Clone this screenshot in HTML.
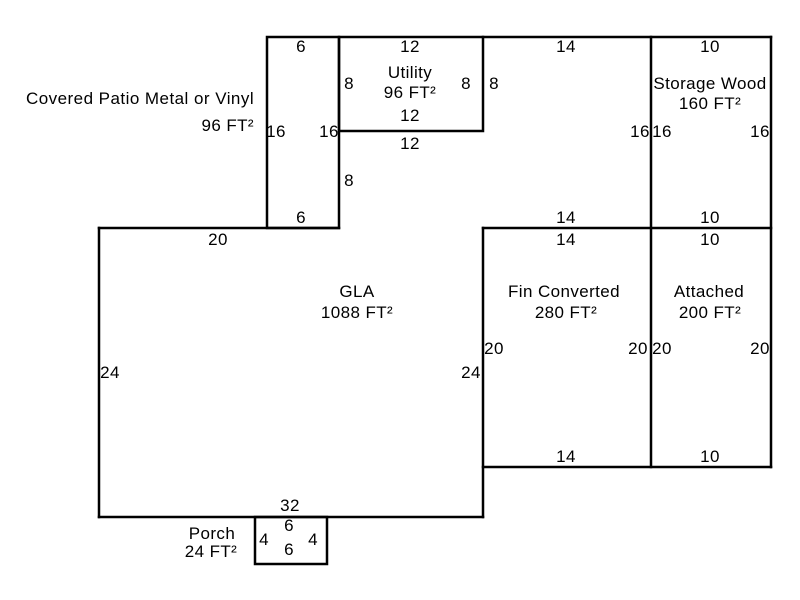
<!DOCTYPE html>
<html><head><meta charset="utf-8"><style>
html,body{margin:0;padding:0;background:#fff;width:800px;height:600px;overflow:hidden}
svg text{font-family:"Liberation Sans",Arial,sans-serif;font-size:17px;letter-spacing:0.4px;fill:#000}
</style></head><body>
<svg width="800" height="600" xmlns="http://www.w3.org/2000/svg">
<g stroke="#000" stroke-width="2.5" fill="none" stroke-linecap="square">
<rect x="267" y="37" width="72" height="191"/>
<rect x="339" y="37" width="144" height="94"/>
<line x1="483" y1="37" x2="771" y2="37"/>
<line x1="651" y1="37" x2="651" y2="467"/>
<line x1="771" y1="37" x2="771" y2="467"/>
<line x1="483" y1="228" x2="771" y2="228"/>
<line x1="483" y1="467" x2="771" y2="467"/>
<line x1="483" y1="228" x2="483" y2="517"/>
<line x1="99" y1="228" x2="339" y2="228"/>
<line x1="99" y1="228" x2="99" y2="517"/>
<line x1="99" y1="517" x2="483" y2="517"/>
<rect x="255" y="517" width="72" height="47"/>
</g>
<g text-anchor="middle">
<text x="301" y="52">6</text>
<text x="410" y="52">12</text>
<text x="566" y="52">14</text>
<text x="710" y="52">10</text>
<text x="410" y="78">Utility</text>
<text x="410" y="98">96 FT²</text>
<text x="349" y="89">8</text>
<text x="466" y="89">8</text>
<text x="494" y="89">8</text>
<text x="710" y="89">Storage Wood</text>
<text x="710" y="109">160 FT²</text>
<text x="410" y="121">12</text>
<text x="410" y="149">12</text>
<text x="276" y="137">16</text>
<text x="329" y="137">16</text>
<text x="640" y="137">16</text>
<text x="662" y="137">16</text>
<text x="760" y="137">16</text>
<text x="349" y="186">8</text>
<text x="301" y="223">6</text>
<text x="566" y="223">14</text>
<text x="710" y="223">10</text>
<text x="218" y="245">20</text>
<text x="566" y="245">14</text>
<text x="710" y="245">10</text>
<text x="357" y="297">GLA</text>
<text x="357" y="318">1088 FT²</text>
<text x="564" y="297">Fin Converted</text>
<text x="566" y="318">280 FT²</text>
<text x="709" y="297">Attached</text>
<text x="710" y="318">200 FT²</text>
<text x="494" y="354">20</text>
<text x="638" y="354">20</text>
<text x="662" y="354">20</text>
<text x="760" y="354">20</text>
<text x="110" y="378">24</text>
<text x="471" y="378">24</text>
<text x="566" y="462">14</text>
<text x="710" y="462">10</text>
<text x="290" y="511">32</text>
<text x="289" y="531">6</text>
<text x="212" y="539">Porch</text>
<text x="211" y="557">24 FT²</text>
<text x="264" y="545">4</text>
<text x="313" y="545">4</text>
<text x="289" y="555">6</text>
</g>
<text x="26" y="104" textLength="228">Covered Patio Metal or Vinyl</text>
<text x="254" y="131" text-anchor="end">96 FT²</text>
</svg>
</body></html>
